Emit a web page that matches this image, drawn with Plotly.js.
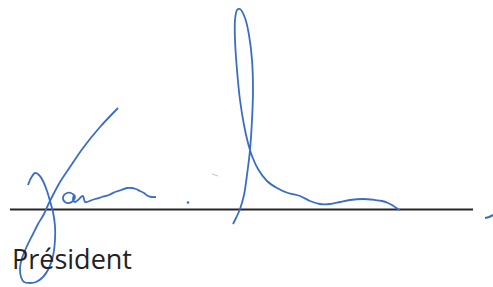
<!DOCTYPE html>
<html><head><meta charset="utf-8">
<script src="https://cdn.plot.ly/plotly-3.0.1.min.js"></script>
<style>html,body{margin:0;padding:0;background:#fff;}#c{width:493px;height:287px;}</style>
</head><body><div id="c"></div>
<script>
// Signature strokes (pixel-space coordinates, y down)
const strokeLeftX = [28,31,35,39,43,47,50,53,55,55,53,49,43,36,30,24,21,20,22,27,33,38,44,48,53,60,70,83,100,118];
const strokeLeftY = [185,178,173,175,181,191,201,212,226,240,256,268,277,282,283,282,277,268,258,246,234,224,214,205,195,182,167,148,127,108];
const loopOX = [74,71,67,64,63,65,69,73,75,74,73,75,78,81,83,84,85,87];
const loopOY = [195,193,193,195,199,202,203,201,197,195,200,202,200,197,196,199,202,202];
const tailAX = [87,95,102,109,115,121,127,132,136,140,144,148,152,156];
const tailAY = [202,199,197,195,192,190,188,188,189,191,193,196,197,197];
const dotX = [187,189];
const dotY = [202,203];
const strokeRightX = [233,236,240,244,247,250,252,253,252,249,245,240,237,235,235,237,240,244,248,252,258,267,277,288,300,310,320,330,340,350,363,375,382,388,392,395,398,400];
const strokeRightY = [224,218,209,195,175,150,120,90,60,35,18,9,10,20,40,70,100,125,143,156,169,181,188,193,196,201,204,204,202,200,199,200,201,203,205,207,209,210];
const faintX = [212,215,218];
const faintY = [174,175,176];
const ruleX = [10,473];
const ruleY = [209.5,209.5];
const dashX = [485,489,493];
const dashY = [218,217,215];
const label = "Président";

const blue = '#3a6dc6';
const ln = (x,y,c,w,o)=>({x:x,y:y,type:'scatter',mode:'lines',line:{color:c,width:w,shape:'spline',smoothing:0.8},opacity:o||1,hoverinfo:'skip'});
const traces = [
  ln(ruleX,ruleY,'#262626',2),
  ln(strokeLeftX,strokeLeftY,blue,1.8),
  ln(loopOX,loopOY,blue,1.8),
  ln(tailAX,tailAY,blue,1.8),
  ln(dotX,dotY,blue,2.2),
  ln(strokeRightX,strokeRightY,blue,1.8),
  ln(faintX,faintY,'#9aa6c0',1.2,0.6),
  ln(dashX,dashY,blue,2),
  {x:[12],y:[262],type:'scatter',mode:'text',text:[label],textposition:'middle right',
   textfont:{family:'Open Sans',size:27,color:'#222222'},hoverinfo:'skip'}
];
const layout = {
  width:493,height:287,margin:{l:0,r:0,t:0,b:0},
  paper_bgcolor:'#ffffff',plot_bgcolor:'#ffffff',showlegend:false,
  xaxis:{range:[0,493],visible:false,fixedrange:true},
  yaxis:{range:[287,0],visible:false,fixedrange:true}
};
Plotly.newPlot('c',traces,layout,{staticPlot:true,displayModeBar:false});
</script></body></html>
